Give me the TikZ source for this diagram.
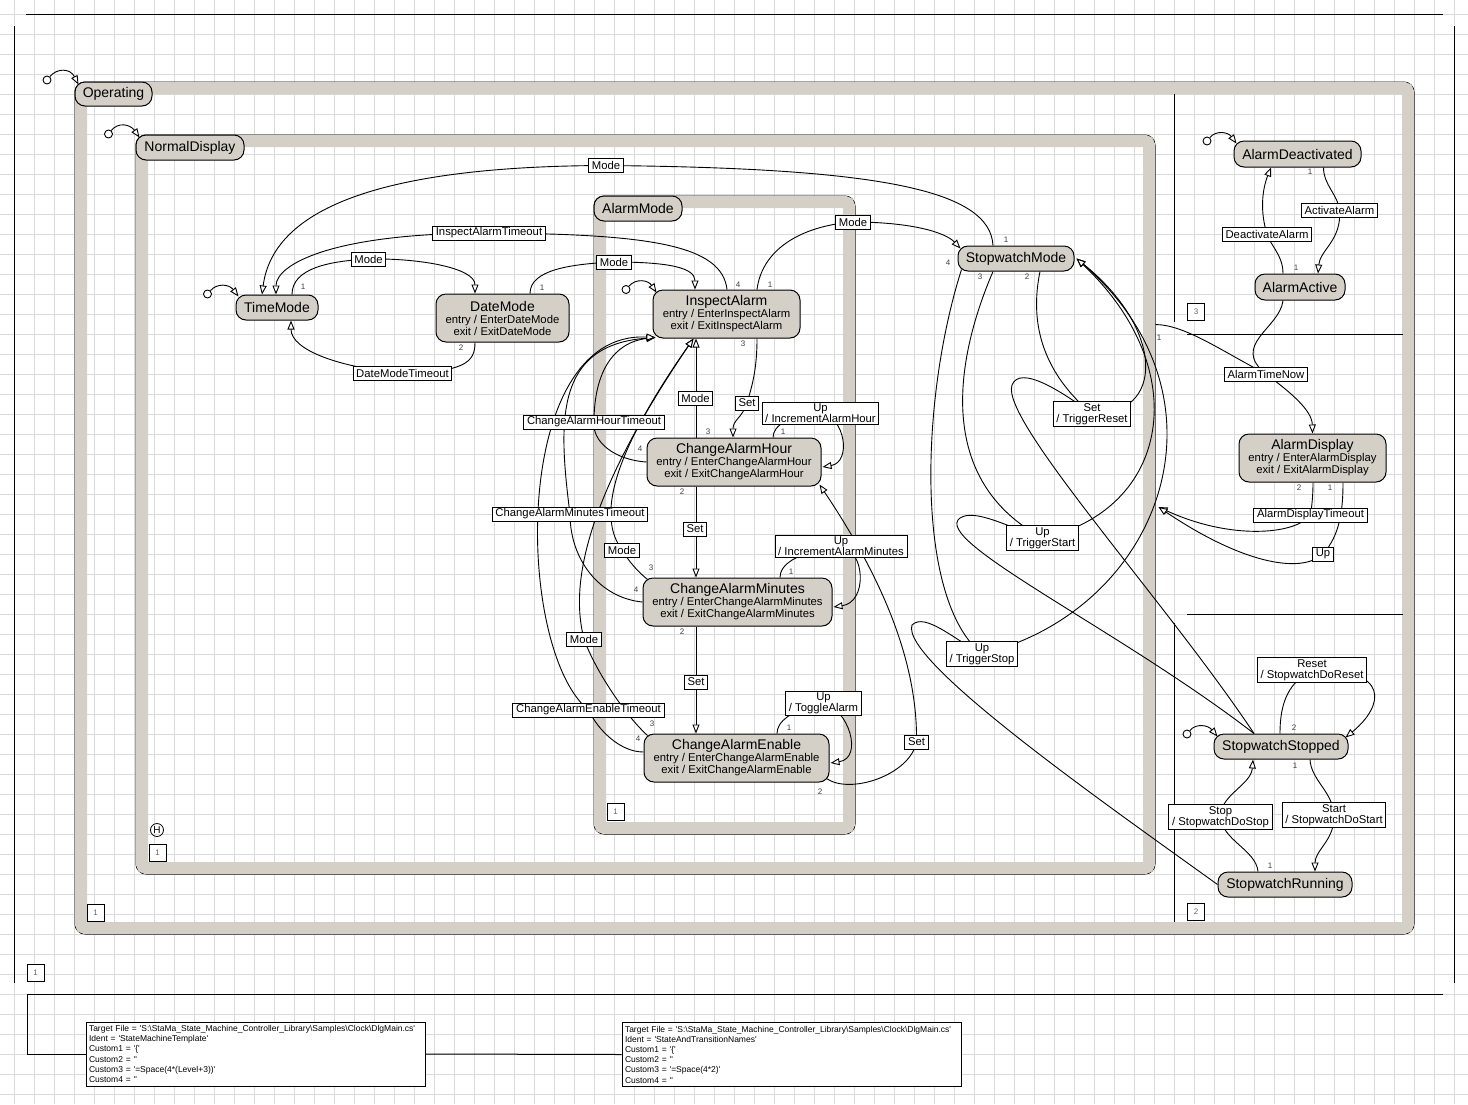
\documentclass[tikz,border=0pt]{standalone}
\usepackage{fontspec}
\setmainfont{Liberation Sans}
\usetikzlibrary{arrows.meta}
\definecolor{stgrey}{RGB}{212,208,200}
\definecolor{gridc}{RGB}{218,218,218}
\newcommand{\sqt}{\textquotesingle}
\newcommand{\sttitle}[1]{{\fontsize{14}{14}\selectfont #1}}
\pgfdeclarelayer{back}
\pgfdeclarelayer{edges}
\pgfsetlayers{back,edges,main}
\tikzset{
  stbox/.style={draw, fill=stgrey, rounded corners=10pt, inner sep=0pt, align=center,
    font=\fontsize{11.3}{12}\selectfont, line width=1pt},
  ttl/.style={font=\fontsize{14}{14}\selectfont},
  lbl/.style={draw, fill=white, inner xsep=3.2pt, inner ysep=1.5pt, minimum height=14pt, align=center,
    font=\fontsize{11.3}{11}\selectfont, line width=1pt},
  num/.style={font=\fontsize{8}{8}\selectfont, text=black!75, inner sep=0pt},
  regbox/.style={draw, fill=white, minimum size=17pt, inner sep=0pt,
    font=\fontsize{8}{8}\selectfont, text=black!60, line width=1pt},
  conn/.style={line width=0.9pt},
  arr/.style={conn, -{Triangle[length=9pt, width=7pt, fill=white]}},
  initc/.style={circle, draw, fill=white, minimum size=8pt, inner sep=0pt, line width=0.9pt},
  compbox/.style={draw, rounded corners=10pt, inner sep=0pt, line width=1pt},
  band/.style={draw=stgrey, line width=12pt, rounded corners=4pt},
  frameline/.style={line width=1pt},
  gridline/.style={gridc, line width=1pt},
  infobox/.style={draw, fill=white, align=left, text width=333pt, inner xsep=3pt, inner ysep=2pt,
    minimum height=64pt, font=\fontsize{8.5}{10.2}\selectfont, line width=1pt},
  histc/.style={circle, draw, minimum size=13pt, inner sep=0pt, font=\fontsize{10}{10}\selectfont, line width=0.8pt},
}
\begin{document}
\begin{tikzpicture}[x=1pt,y=-1pt]
\useasboundingbox (0,0) rectangle (1468,1104);
\begin{pgfonlayer}{back}
\fill[white] (0,0) rectangle (1468,1104);
\foreach \g in {14,34,...,1454} \draw[gridline] (\g,0) -- (\g,1104);
\foreach \g in {14,34,...,1094} \draw[gridline] (0,\g) -- (1468,\g);
\draw[frameline] (26,14) -- (1443,14);
\draw[frameline] (14,26) -- (14,983);
\draw[frameline] (1454,26) -- (1454,983);
\draw[frameline] (27,994) -- (1443,994);
% composite states
\node[compbox, minimum width=1339pt, minimum height=852pt] (op) at (744.5,508) {};
\draw[band] ([shift={(6.5,6.5)}]op.north west) rectangle ([shift={(-6.5,-6.5)}]op.south east);
\node[compbox, minimum width=1019pt, minimum height=739pt] (nd) at (645.5,504.5) {};
\draw[band] ([shift={(6.5,6.5)}]nd.north west) rectangle ([shift={(-6.5,-6.5)}]nd.south east);
\node[compbox, minimum width=261pt, minimum height=638pt] (am) at (724.5,515) {};
\draw[band] ([shift={(6.5,6.5)}]am.north west) rectangle ([shift={(-6.5,-6.5)}]am.south east);
% region separators
\draw[frameline] (1174,94) -- (1174,322);
\draw[frameline] (1187,334) -- (1403,334);
\draw[frameline] (1187,614) -- (1403,614);
\draw[frameline] (1174,623) -- (1174,922);
\end{pgfonlayer}

% composite state names
\node[stbox, ttl, minimum width=77pt, minimum height=24pt] (opl) at (113.5,94) {Operating};
\node[stbox, ttl, minimum width=108pt, minimum height=25pt] (ndl) at (190,147.5) {NormalDisplay};
\node[stbox, ttl, minimum width=88pt, minimum height=25pt] (aml) at (638,208.5) {AlarmMode};

% simple states
\node[stbox, ttl, minimum width=82pt, minimum height=25pt] (tm) at (277,307.5) {TimeMode};
\node[stbox, minimum width=133pt, minimum height=48pt] (dm) at (502.5,318) {\sttitle{DateMode}\\entry / EnterDateMode\\exit / ExitDateMode};
\node[stbox, minimum width=147pt, minimum height=48pt] (ia) at (726.5,314) {\sttitle{InspectAlarm}\\entry / EnterInspectAlarm\\exit / ExitInspectAlarm};
\node[stbox, minimum width=174pt, minimum height=48pt] (cah) at (734,462) {\sttitle{ChangeAlarmHour}\\entry / EnterChangeAlarmHour\\exit / ExitChangeAlarmHour};
\node[stbox, minimum width=189pt, minimum height=48pt] (cam) at (737.5,602) {\sttitle{ChangeAlarmMinutes}\\entry / EnterChangeAlarmMinutes\\exit / ExitChangeAlarmMinutes};
\node[stbox, minimum width=185pt, minimum height=48pt] (cae) at (736.5,758) {\sttitle{ChangeAlarmEnable}\\entry / EnterChangeAlarmEnable\\exit / ExitChangeAlarmEnable};
\node[stbox, ttl, minimum width=116pt, minimum height=25pt] (swm) at (1016,258.5) {StopwatchMode};
\node[stbox, ttl, minimum width=127pt, minimum height=26pt] (ad) at (1297.5,154) {AlarmDeactivated};
\node[stbox, ttl, minimum width=90pt, minimum height=26pt] (aa) at (1300,287) {AlarmActive};
\node[stbox, minimum width=147pt, minimum height=48pt] (adp) at (1312.5,458) {\sttitle{AlarmDisplay}\\entry / EnterAlarmDisplay\\exit / ExitAlarmDisplay};
\node[stbox, ttl, minimum width=134pt, minimum height=25pt] (sws) at (1281,746.5) {StopwatchStopped};
\node[stbox, ttl, minimum width=134pt, minimum height=25pt] (swr) at (1285,884.5) {StopwatchRunning};

% initial pseudo states
\node[initc] (i0) at (47,80) {};
\node[initc] (i1) at (108.5,134) {};
\node[initc] (i2) at (207.5,294) {};
\node[initc] (i3) at (626,289.5) {};
\node[initc] (i4) at (1207,141) {};
\node[initc] (i5) at (1187,734) {};

% history
\node[histc] (hist) at (157,830) {H};

% region boxes
\node[regbox] (rop) at (95.5,912.5) {1};
\node[regbox] (rnd) at (157.5,853) {1};
\node[regbox] (ram) at (615.5,812) {1};
\node[regbox] (rthree) at (1196,312) {3};
\node[regbox] (rtwo) at (1196,912) {2};
\node[regbox] (fb0) at (35.5,973) {1};

% transition labels
\node[lbl] (lm1) at (368.5,259) {Mode};
\node[lbl] (liat) at (489,233) {InspectAlarmTimeout};
\node[lbl] (lmtop) at (606,165.5) {Mode};
\node[lbl] (lm2) at (614,262) {Mode};
\node[lbl] (lm3) at (853,222) {Mode};
\node[lbl] (ldmt) at (402.5,373) {DateModeTimeout};
\node[lbl] (lm4) at (695.5,398) {Mode};
\node[lbl] (ls1) at (747,403) {Set};
\node[lbl] (lu1) at (820.5,413.5) {Up\\/ IncrementAlarmHour};
\node[lbl] (lcaht) at (594,422) {ChangeAlarmHourTimeout};
\node[lbl] (lcamt) at (570,514) {ChangeAlarmMinutesTimeout};
\node[lbl] (ls2) at (695,529) {Set};
\node[lbl] (lm5) at (622,550) {Mode};
\node[lbl] (lu2) at (841,546.5) {Up\\/ IncrementAlarmMinutes};
\node[lbl] (lm6) at (584,639) {Mode};
\node[lbl] (ls3) at (696,682) {Set};
\node[lbl] (lu3) at (823.5,703.5) {Up\\/ ToggleAlarm};
\node[lbl] (lcaet) at (588.5,710) {ChangeAlarmEnableTimeout};
\node[lbl] (ls4) at (916.5,742) {Set};
\node[lbl] (lsr) at (1092,414) {Set\\/ TriggerReset};
\node[lbl] (lus) at (1042.5,538) {Up\\/ TriggerStart};
\node[lbl] (lup) at (982,654) {Up\\/ TriggerStop};
\node[lbl] (lda) at (1267,234) {DeactivateAlarm};
\node[lbl] (lac) at (1339.5,210) {ActivateAlarm};
\node[lbl] (latn) at (1266,374) {AlarmTimeNow};
\node[lbl] (ladt) at (1310.5,515) {AlarmDisplayTimeout};
\node[lbl] (luad) at (1323,554) {Up};
\node[lbl] (lrs) at (1312,670) {Reset\\/ StopwatchDoReset};
\node[lbl] (lst) at (1220.5,817) {Stop\\/ StopwatchDoStop};
\node[lbl] (lsa) at (1334,815) {Start\\/ StopwatchDoStart};

% transition priority numbers
\node[num] (na1) at (303,287) {1};
\node[num] (na2) at (461,348) {2};
\node[num] (na3) at (542,288) {1};
\node[num] (na4) at (738,285) {4};
\node[num] (na5) at (770,285) {1};
\node[num] (na6) at (743,344) {3};
\node[num] (nb1) at (708,432) {3};
\node[num] (nb2) at (783,432) {1};
\node[num] (nb3) at (640,449) {4};
\node[num] (nb4) at (682,492) {2};
\node[num] (nc1) at (651,568) {3};
\node[num] (nc2) at (636,590) {4};
\node[num] (nc3) at (791,572) {1};
\node[num] (nc4) at (682,632) {2};
\node[num] (nd1) at (652,724) {3};
\node[num] (nd2) at (638,739) {4};
\node[num] (nd3) at (789,728) {1};
\node[num] (nd4) at (820,792) {2};
\node[num] (ne1) at (1006,240) {1};
\node[num] (ne2) at (948,263) {4};
\node[num] (ne3) at (980,277) {3};
\node[num] (ne4) at (1027,277) {2};
\node[num] (nf1) at (1310,172) {1};
\node[num] (nf2) at (1296,268) {1};
\node[num] (nf3) at (1159,338) {1};
\node[num] (nf4) at (1299,488) {2};
\node[num] (nf5) at (1330,488) {1};
\node[num] (ng1) at (1294,728) {2};
\node[num] (ng2) at (1295,766) {1};
\node[num] (ng3) at (1270,866) {1};

% footer boxes
\node[infobox] (fb1) at (255.5,1054) {\mbox{Target File = \sqt S:\textbackslash StaMa\_State\_Machine\_Controller\_Library\textbackslash Samples\textbackslash Clock\textbackslash DlgMain.cs\sqt}\\Ident = \sqt StateMachineTemplate\sqt\\Custom1 = \sqt\{\sqt\\Custom2 = \sqt\sqt\\Custom3 = \sqt=Space(4*(Level+3))\sqt\\Custom4 = \sqt\sqt};
\node[infobox] (fb2) at (791.5,1054.5) {\mbox{Target File = \sqt S:\textbackslash StaMa\_State\_Machine\_Controller\_Library\textbackslash Samples\textbackslash Clock\textbackslash DlgMain.cs\sqt}\\Ident = \sqt StateAndTransitionNames\sqt\\Custom1 = \sqt\{\sqt\\Custom2 = \sqt\sqt\\Custom3 = \sqt=Space(4*2)\sqt\\Custom4 = \sqt\sqt};
\coordinate (fline) at (27,994);

\begin{pgfonlayer}{edges}
\draw[frameline] (fline) |- (fb1.west);
\draw[frameline] (fb1.east) -- (fb2.west);
% initial transitions
\draw[arr] (i0) .. controls (57,68) and (70,68) .. ([xshift=4pt,yshift=-3pt]opl.north west);
\draw[arr] (i1) .. controls (118,122) and (130,124) .. ([xshift=4pt,yshift=-3pt]ndl.north west);
\draw[arr] (i2) .. controls (217,283) and (229,284) .. ([xshift=3pt,yshift=-2pt]tm.north west);
\draw[arr] (i3) .. controls (636,278) and (648,280) .. ([xshift=4pt,yshift=-3pt]ia.north west);
\draw[arr] (i4) .. controls (1216,130) and (1228,132) .. ([xshift=3pt,yshift=-3pt]ad.north west);
\draw[arr] (i5) .. controls (1196,723) and (1208,725) .. ([xshift=4pt,yshift=-3pt]sws.north west);
% NormalDisplay
\draw[arr] ([xshift=15pt]tm.north) .. controls (292,268) and (330,261) .. (lm1.center) .. controls (420,258) and (475,268) .. ([xshift=-27.5pt]dm.north);
\draw[arr] ([xshift=-27.5pt]dm.south) .. controls (475,362) and (465,372) .. (ldmt.center) .. controls (340,368) and (291,350) .. ([xshift=14pt]tm.south);
\draw[arr] ([xshift=27.5pt]dm.north) .. controls (530,270) and (570,264) .. (lm2.center) .. controls (670,262) and (695,268) .. ([xshift=-31.5pt]ia.north);
\draw[arr] ([xshift=0.5pt]ia.north) .. controls (722,245) and (650,234) .. (liat.center) .. controls (330,233) and (276,265) .. ([xshift=-1pt]tm.north);
\draw[arr] ([xshift=-23pt]swm.north) .. controls (990,190) and (880,168) .. (lmtop.center) .. controls (420,166) and (275,195) .. ([xshift=-15pt]tm.north);
\draw[arr] ([xshift=30.5pt]ia.north) .. controls (762,250) and (800,226) .. (lm3.center) .. controls (910,222) and (945,232) .. ([xshift=3pt,yshift=-3pt]swm.north west);
% AlarmMode
\draw[arr] ([xshift=30.5pt]ia.south) .. controls (757,370) and (752,386) .. (ls1.center) .. controls (742,418) and (733,420) .. ([xshift=-1pt]cah.north);
\draw[arr] ([xshift=-38pt]cah.north) -- ([xshift=-30.5pt]ia.south);
\draw[arr] ([xshift=39pt]cah.north) .. controls (773,425) and (790,415) .. (lu1.center) .. controls (845,416) and (852,462) .. ([xshift=1pt,yshift=-5pt]cah.east);
\draw[arr] ([xshift=-38pt]cah.south) -- ([xshift=-41.5pt]cam.north);
\draw[arr] (cah.west) .. controls (615,460) and (592,442) .. (lcaht.center) .. controls (594,370) and (615,342) .. ([xshift=3pt,yshift=1pt]ia.south west);
\draw[arr] (cam.west) .. controls (600,598) and (570,560) .. (lcamt.center) .. controls (558,420) and (555,345) .. ([xshift=3pt,yshift=1pt]ia.south west);
\draw[arr] ([yshift=6pt]cae.west) .. controls (620,752) and (598,730) .. (lcaet.center) .. controls (515,650) and (510,330) .. ([xshift=3pt,yshift=1pt]ia.south west);
\draw[arr] ([xshift=5pt,yshift=-2pt]cam.north west) .. controls (636,570) and (628,560) .. (lm5.center) .. controls (600,520) and (605,465) .. ([xshift=-33pt]ia.south);
\draw[arr] ([xshift=4pt,yshift=-2pt]cae.north west) .. controls (625,715) and (595,670) .. (lm6.center) .. controls (574,600) and (570,520) .. ([xshift=-33pt]ia.south);
\draw[arr] ([xshift=-41.5pt]cam.south) -- ([xshift=-40.5pt]cae.north);
\draw[arr] ([xshift=42.5pt]cam.north) .. controls (780,565) and (795,552) .. (lu2.center) .. controls (865,550) and (868,602) .. ([xshift=1pt,yshift=-5pt]cam.east);
\draw[arr] ([xshift=40.5pt]cae.north) .. controls (777,722) and (790,710) .. (lu3.center) .. controls (848,708) and (864,758) .. ([xshift=1pt,yshift=-5pt]cae.east);
\draw[arr] ([xshift=-3pt,yshift=4pt]cae.south east) .. controls (850,795) and (910,775) .. (ls4.center) .. controls (918,650) and (870,560) .. ([xshift=-2pt,yshift=2pt]cah.south east);
% alarm region
\draw[arr] ([xshift=26pt]ad.south) .. controls (1323.5,185) and (1338,195) .. (lac.center) .. controls (1342,240) and (1320,250) .. ([xshift=18pt]aa.north);
\draw[arr] ([xshift=-17pt]aa.north) .. controls (1283,255) and (1270,245) .. (lda.center) .. controls (1260,212) and (1262,190) .. ([xshift=-26.5pt]ad.south);
\draw[arr] ([xshift=-17pt]aa.south) .. controls (1280,328) and (1230,345) .. (latn.center) .. controls (1290,392) and (1312,410) .. (adp.north);
\draw[conn] ([yshift=-190pt]nd.north east) .. controls (1185,325) and (1220,350) .. (latn.center);
\draw[arr] ([xshift=0.5pt]adp.south) .. controls (1313,495) and (1312,505) .. (ladt.center) .. controls (1295,535) and (1230,540) .. ([xshift=3pt,yshift=-2.5pt]nd.east);
\draw[arr] ([xshift=30.5pt]adp.south) .. controls (1343,510) and (1340,535) .. (luad.center) .. controls (1300,575) and (1240,562) .. ([xshift=3pt,yshift=-2.5pt]nd.east);
% stopwatch region
\draw[arr] ([xshift=-1pt]sws.north) .. controls (1280,700) and (1290,682) .. (lrs.center) .. controls (1390,668) and (1385,705) .. ([xshift=-3pt,yshift=-4pt]sws.north east);
\draw[arr] ([xshift=29pt]sws.south) .. controls (1311,780) and (1333,792) .. (lsa.center) .. controls (1335,840) and (1315,850) .. ([xshift=30pt]swr.north);
\draw[arr] ([xshift=-27pt]swr.north) .. controls (1256,850) and (1222,840) .. (lst.center) .. controls (1220,795) and (1251,785) .. ([xshift=-28pt]sws.south);
% StopwatchMode join transitions
\draw[conn] ([xshift=24pt]swm.south) .. controls (1030,320) and (1040,370) .. (lsr.center);
\draw[conn] ([xshift=-27pt]sws.north) .. controls (1165,600) and (1000,420) .. (1012,385) .. controls (1020,365) and (1060,390) .. (lsr.center);
\draw[arr] (lsr.center) .. controls (1165,415) and (1165,330) .. ([xshift=2pt]swm.east);
\draw[conn] ([xshift=-23pt]swm.south) .. controls (955,360) and (935,480) .. (lus.center);
\draw[conn] ([xshift=-27pt]sws.north) .. controls (1120,630) and (930,540) .. (960,518) .. controls (975,508) and (1010,528) .. (lus.center);
\draw[arr] (lus.center) .. controls (1170,510) and (1195,370) .. ([xshift=2pt]swm.east);
\draw[conn] ([xshift=4pt,yshift=2pt]swm.south west) .. controls (920,400) and (915,600) .. (lup.center);
\draw[conn] (swr.west) .. controls (1100,800) and (900,660) .. (912,625) .. controls (925,612) and (955,640) .. (lup.center);
\draw[arr] (lup.center) .. controls (1160,610) and (1240,400) .. ([xshift=2pt]swm.east);
\end{pgfonlayer}
\end{tikzpicture}
\end{document}
